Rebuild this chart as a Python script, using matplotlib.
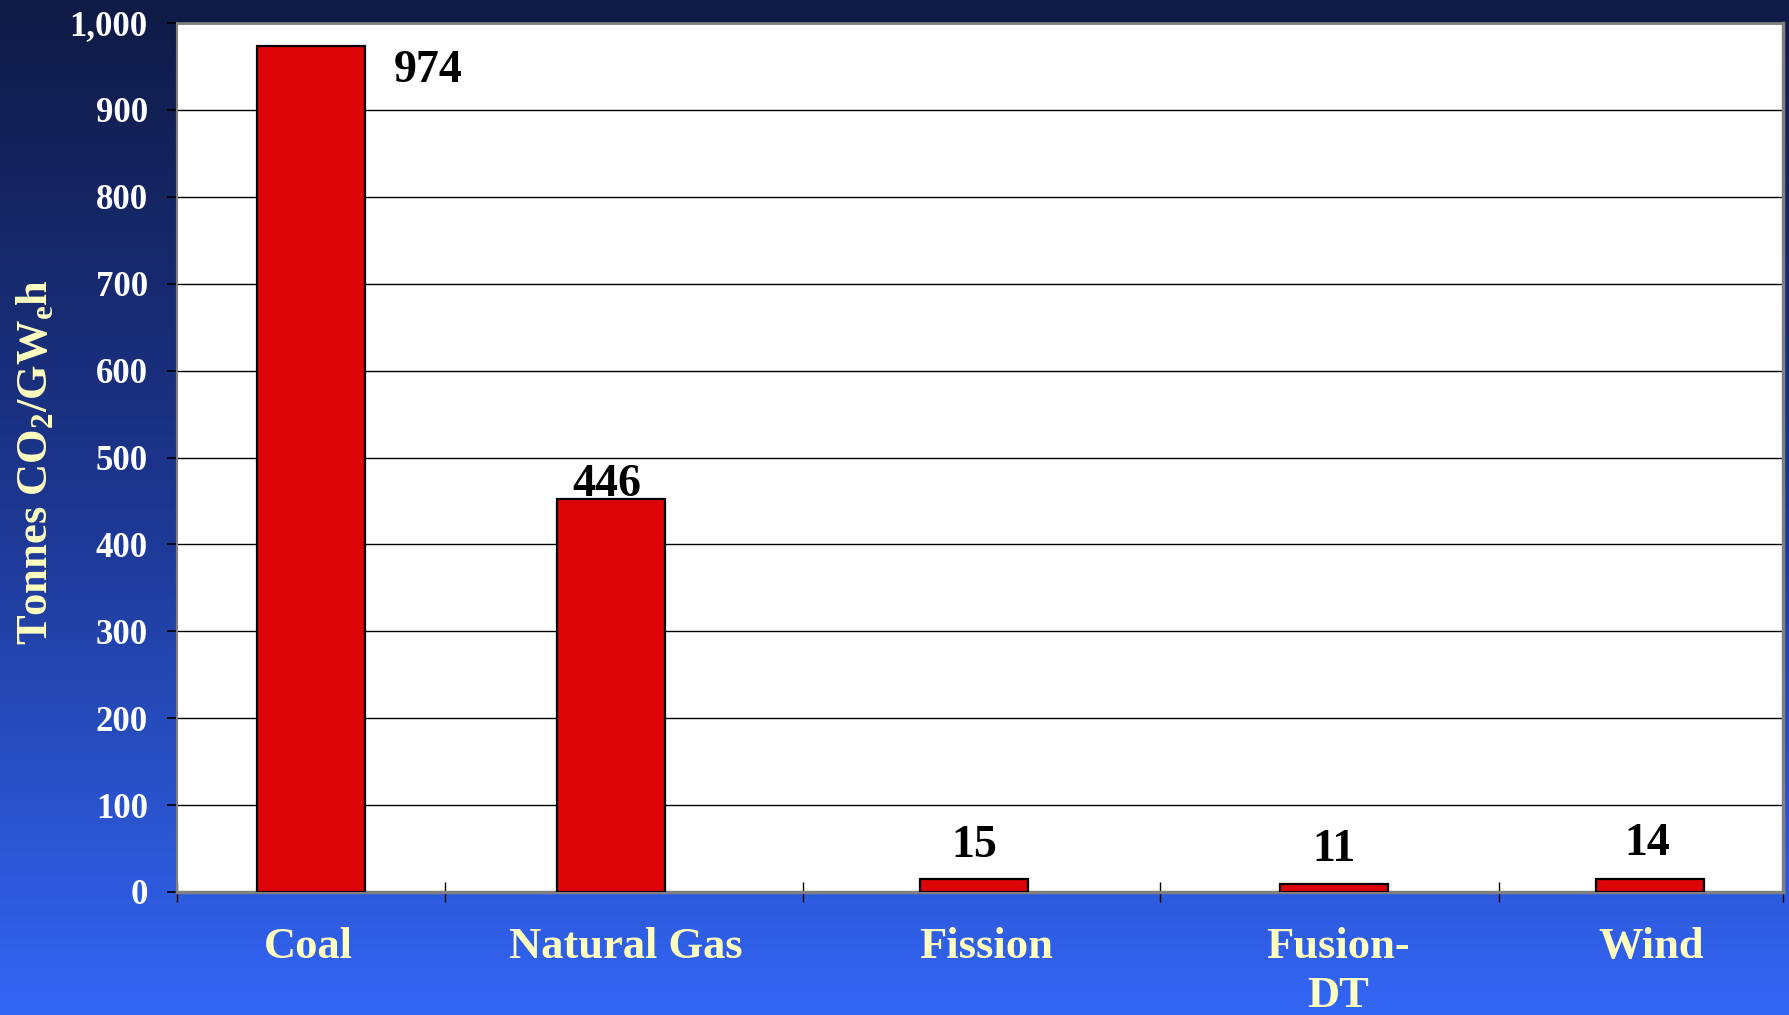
import numpy as np
import matplotlib
matplotlib.use("Agg")
import matplotlib.pyplot as plt
from matplotlib.colors import LinearSegmentedColormap
from matplotlib.ticker import FuncFormatter, FixedLocator

# ---- data ----
categories = ["Coal", "Natural Gas", "Fission", "Fusion-\nDT", "Wind"]
bar_values = [974, 452, 15, 9, 15]
value_labels = ["974", "446", "15", "11", "14"]
y_ticks = [0, 100, 200, 300, 400, 500, 600, 700, 800, 900, 1000]

# ---- layout (not data) ----
x_pos = [0.0835, 0.2704, 0.4964, 0.7203, 0.9172]
cat_label_pos = [0.0817, 0.2793, 0.5039, 0.7228, 0.9176]
separators = [0.167, 0.3895, 0.612, 0.823, 1.0]
bar_width = 0.0675
label_offsets = [(84, -26), (-3, 2), (0, 16), (0, 16.5), (-2, 17)]

plt.rcParams["mathtext.fontset"] = "custom"
plt.rcParams["mathtext.rm"] = "Liberation Serif:bold"
plt.rcParams["mathtext.default"] = "rm"

serif = "Liberation Serif"
pale = "#FFFFC0"

fig = plt.figure(figsize=(17.9, 10.15), dpi=100)

# gradient background
bg = fig.add_axes([0, 0, 1, 1], zorder=-10)
cmap = LinearSegmentedColormap.from_list("bg", ["#0f1a45", "#1d3791", "#3366f5"])
grad = np.linspace(0, 1, 256).reshape(-1, 1)
bg.imshow(grad, aspect="auto", cmap=cmap, extent=[0, 1, 0, 1], origin="upper")
bg.axis("off")

ax = fig.add_axes([0.0989, 0.1212, 0.8972, 0.8561])
ax.set_facecolor("white")
ax.set_xlim(0, 1)
ax.set_ylim(0, 1000)

ax.set_axisbelow(True)
ax.yaxis.grid(True, color="black", linewidth=1.0)

bars = ax.bar(x_pos, bar_values, width=bar_width, color="#DD0505",
              edgecolor="black", linewidth=1.6, zorder=3)

for xp, v, lab, off in zip(x_pos, bar_values, value_labels, label_offsets):
    ax.annotate(lab, (xp, v), xytext=off, textcoords="offset points",
                ha="center", va="baseline", fontsize=33, fontweight="bold",
                family=serif, color="black", zorder=4)

# y axis
ax.set_yticks(y_ticks)
ax.yaxis.set_major_formatter(FuncFormatter(lambda v, p: f"{int(v):,}"))
ax.tick_params(axis="y", direction="out", length=7, width=1.2, color="black",
               pad=14, labelsize=25, labelcolor="white")
for t in ax.get_yticklabels():
    t.set_fontfamily(serif)
    t.set_fontweight("bold")

# x axis: separator ticks as major, labels as minor
ax.xaxis.set_major_locator(FixedLocator([0.0] + separators))
ax.xaxis.set_major_formatter(FuncFormatter(lambda v, p: ""))
ax.set_xticks(cat_label_pos, minor=True)
ax.set_xticklabels(categories, minor=True)
ax.tick_params(axis="x", which="major", direction="inout", length=15, width=1.0, color="black")
ax.tick_params(axis="x", which="minor", length=0, pad=25.5, labelsize=32, labelcolor=pale)
for t in ax.get_xticklabels(minor=True):
    t.set_fontfamily(serif)
    t.set_fontweight("bold")
    t.set_linespacing(1.28)

for side, lw in [("left", 1.5), ("top", 2.0), ("right", 2.5), ("bottom", 2.5)]:
    ax.spines[side].set_color("#808080")
    ax.spines[side].set_linewidth(lw)

fig.text(36 / 1790, 1 - 462 / 1015, "Tonnes CO$_2$/GW$_e$h", rotation=90,
         ha="center", va="center", fontsize=32, fontweight="bold",
         family=serif, color=pale)

fig.savefig("out.png", dpi=100)
